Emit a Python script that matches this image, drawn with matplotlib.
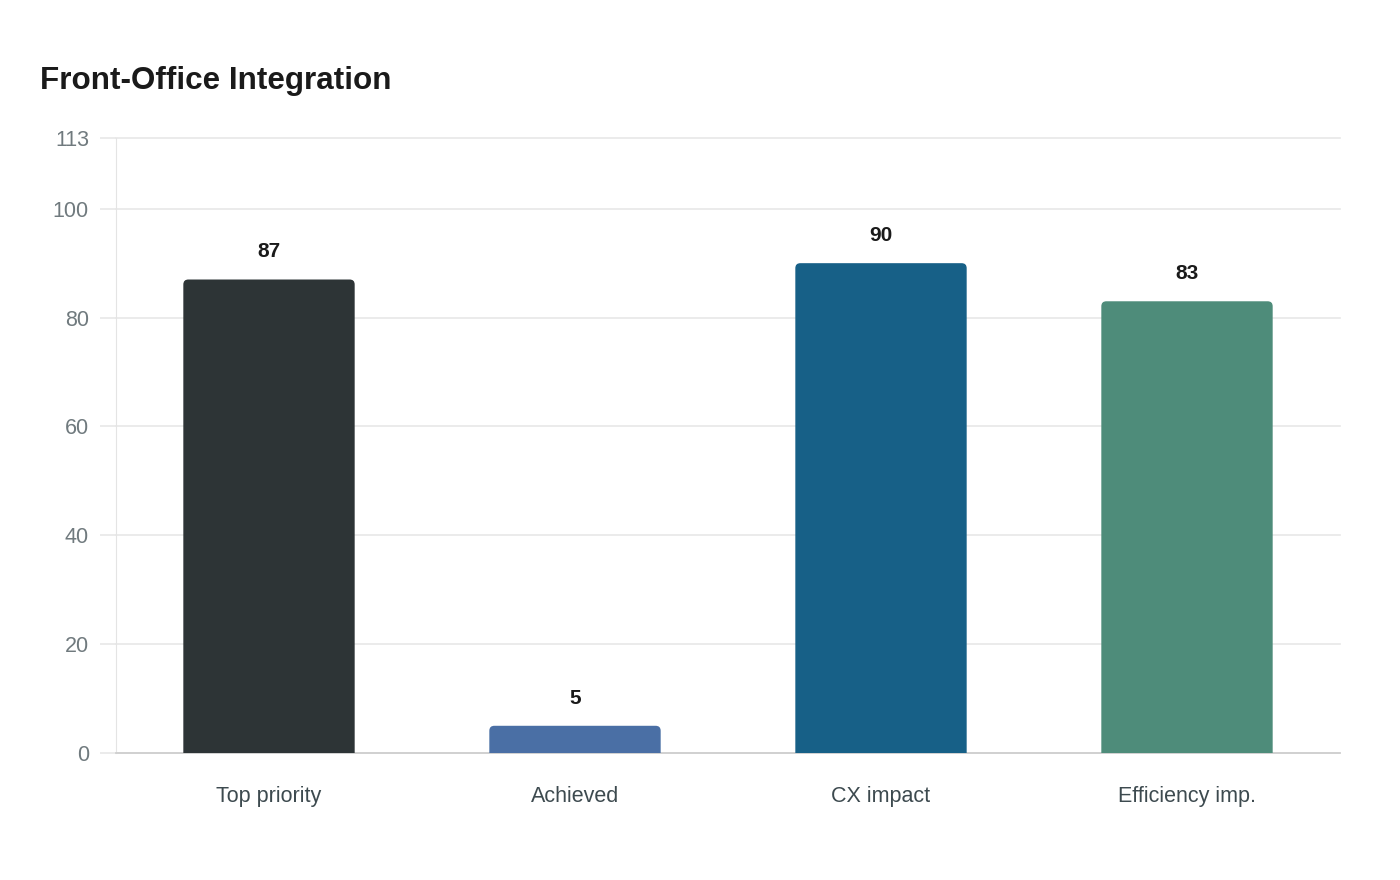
import matplotlib
matplotlib.use("Agg")
import matplotlib.pyplot as plt
from matplotlib.patches import FancyBboxPatch

plt.rcParams['font.family'] = ['Liberation Sans', 'DejaVu Sans']

# data
categories = ["Top priority", "Achieved", "CX impact", "Efficiency imp."]
values = [87, 5, 90, 83]
colors = ["#2d3436", "#4a6fa5", "#176087", "#4e8c7a"]
yticks = [0, 20, 40, 60, 80, 100, 113]

fig = plt.figure(figsize=(14, 8.8), dpi=100)
ax = fig.add_axes([116/1400, 1-753/880, 1224/1400, 615/880])

ax.set_xlim(-0.5, len(categories) - 0.5)
ax.set_ylim(0, 113)

# rounded top bars (bottom pushed below axis and clipped)
width = 0.56
px_x = 1224 / len(categories)
px_y = 615 / 113
aspect = px_x / px_y
r = 5 / px_x
for i, (v, c) in enumerate(zip(values, colors)):
    p = FancyBboxPatch((i - width/2, -3), width, v + 3,
                       boxstyle=f"round,pad=0,rounding_size={r}",
                       mutation_aspect=aspect, facecolor=c, edgecolor="none",
                       zorder=3)
    ax.add_patch(p)
    ax.annotate(str(v), (i, v), xytext=(0, 20), textcoords="offset points",
                ha="center", va="center", fontsize=15, fontweight="bold",
                color="#1a1a1a")

ax.set_xticks(range(len(categories)))
ax.set_xticklabels(categories, fontsize=15.5, color="#3d4a4f")
ax.set_yticks(yticks)
ax.set_yticklabels([str(t) for t in yticks], fontsize=15.5, color="#707a7e")
ax.tick_params(axis="x", length=0, pad=24)
ax.tick_params(axis="y", length=11.5, width=1.2, color="#e8e8e8", pad=8)

ax.grid(axis="y", color="#e8e8e8", linewidth=1.2, zorder=0)
for gl in ax.get_ygridlines():
    gl.set_clip_on(False)
ax.set_axisbelow(True)
for s in ["top", "right"]:
    ax.spines[s].set_visible(False)
ax.spines["left"].set_color("#e4e4e4")
ax.spines["bottom"].set_color("#cccccc")
ax.spines["bottom"].set_linewidth(1.2)

fig.text(40/1400, 1-81/880, "Front-Office Integration", fontsize=22.6,
         fontweight="bold", color="#1a1a1a", ha="left", va="center")

fig.savefig("out.png", dpi=100, facecolor="white")
